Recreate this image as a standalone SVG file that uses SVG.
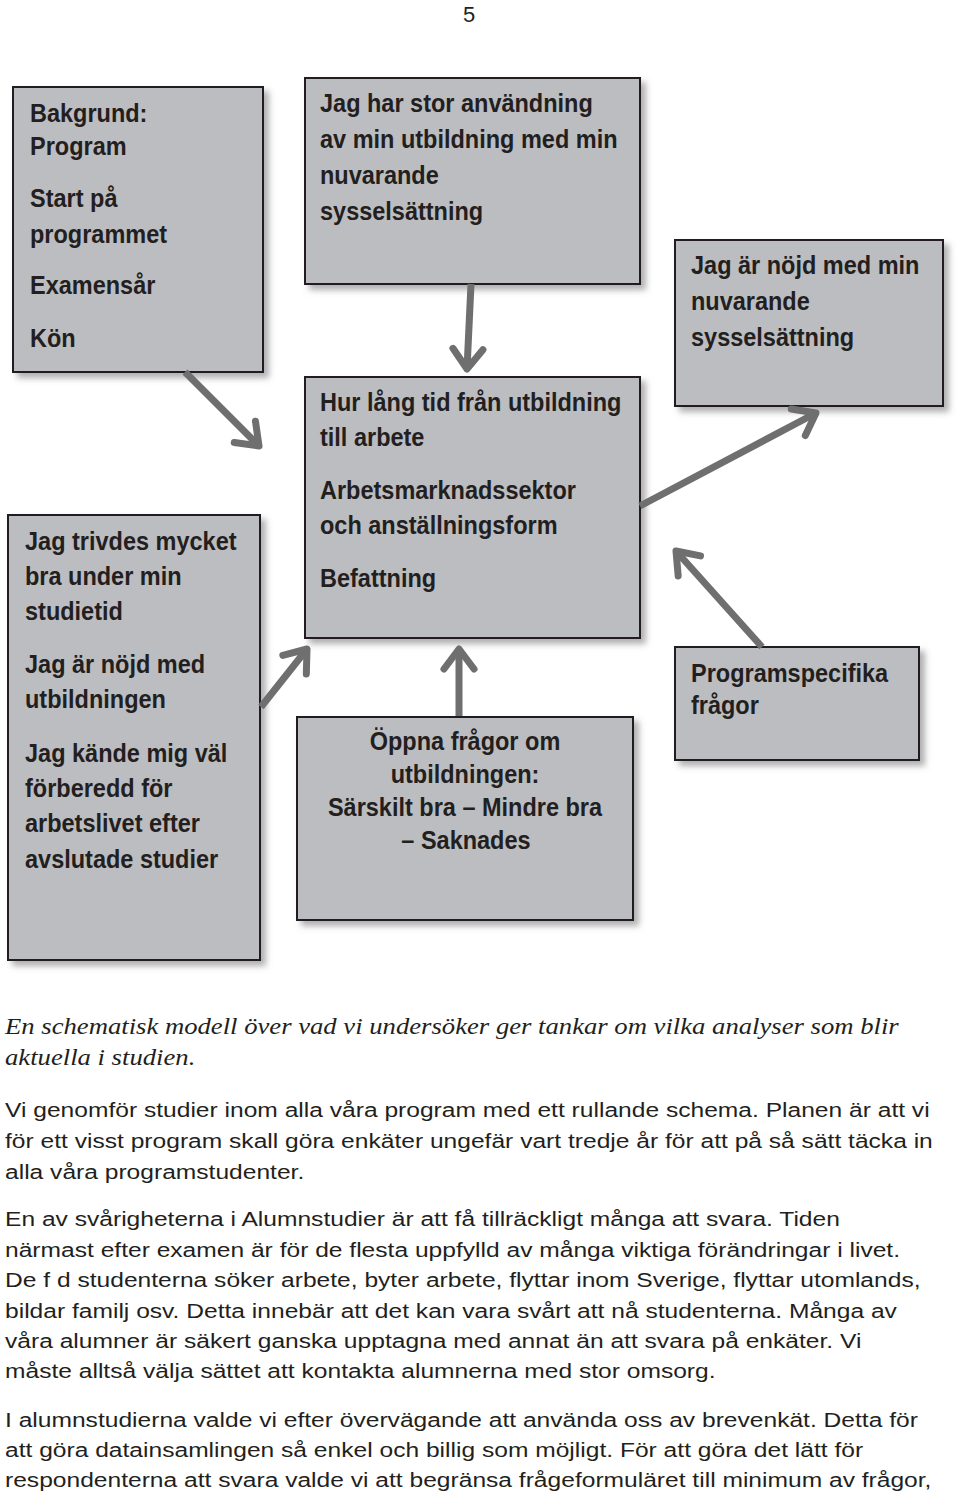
<svg xmlns="http://www.w3.org/2000/svg" width="960" height="1494" viewBox="0 0 960 1494">
<defs>
<filter id="sh" x="-10%" y="-10%" width="130%" height="130%">
<feDropShadow dx="5" dy="5" stdDeviation="3" flood-color="#7a7a7a" flood-opacity="0.6"/>
</filter>
<marker id="ah" markerUnits="userSpaceOnUse" viewBox="-28 -22 34 44" markerWidth="34" markerHeight="44" refX="0" refY="0" orient="auto">
<path d="M-20,-15 L0,0 L-20,15" fill="none" stroke="#6f6f6f" stroke-width="7" stroke-linecap="round" stroke-linejoin="round"/>
</marker>
<style>
.box{fill:#bcbdc0;stroke:#231f20;stroke-width:2;filter:url(#sh)}
.t{font-family:"Liberation Sans",Arial,sans-serif;font-weight:bold;font-size:25px;fill:#231f20}
.c{text-anchor:middle}
.arr{fill:none;stroke:#6f6f6f;stroke-width:7;marker-end:url(#ah)}
.cap{font-family:"Liberation Serif","Times New Roman",serif;font-style:italic;font-size:23px;fill:#231f20}
.body{font-family:"Liberation Sans",Arial,sans-serif;font-size:21px;fill:#231f20}
</style>
</defs>
<rect width="960" height="1494" fill="#ffffff"/>
<text x="469" y="22" font-family="Liberation Sans,Arial,sans-serif" font-size="22" fill="#231f20" text-anchor="middle">5</text>

<g id="n-bakgrund">
<rect class="box" x="13" y="87" width="250" height="285"/>
<g transform="translate(30,0) scale(0.94,1)">
<text class="t" x="0" y="122">Bakgrund:</text>
<text class="t" x="0" y="155">Program</text>
<text class="t" x="0" y="207">Start på</text>
<text class="t" x="0" y="243">programmet</text>
<text class="t" x="0" y="294">Examensår</text>
<text class="t" x="0" y="347">Kön</text>
</g>
</g>

<g id="n-anvandning">
<rect class="box" x="305" y="78" width="335" height="206"/>
<g transform="translate(320,0) scale(0.94,1)">
<text class="t" x="0" y="112">Jag har stor användning</text>
<text class="t" x="0" y="148">av min utbildning med min</text>
<text class="t" x="0" y="184">nuvarande</text>
<text class="t" x="0" y="220">sysselsättning</text>
</g>
</g>

<g id="n-tid">
<rect class="box" x="305" y="377" width="335" height="261"/>
<g transform="translate(320,0) scale(0.94,1)">
<text class="t" x="0" y="411">Hur lång tid från utbildning</text>
<text class="t" x="0" y="446">till arbete</text>
<text class="t" x="0" y="499">Arbetsmarknadssektor</text>
<text class="t" x="0" y="534">och anställningsform</text>
<text class="t" x="0" y="587">Befattning</text>
</g>
</g>

<g id="n-nojd">
<rect class="box" x="675" y="240" width="268" height="166"/>
<g transform="translate(691,0) scale(0.94,1)">
<text class="t" x="0" y="274">Jag är nöjd med min</text>
<text class="t" x="0" y="310">nuvarande</text>
<text class="t" x="0" y="346">sysselsättning</text>
</g>
</g>

<g id="n-programspecifika">
<rect class="box" x="675" y="647" width="244" height="113"/>
<g transform="translate(691,0) scale(0.94,1)">
<text class="t" x="0" y="682">Programspecifika</text>
<text class="t" x="0" y="714">frågor</text>
</g>
</g>

<g id="n-trivdes">
<rect class="box" x="8" y="515" width="252" height="445"/>
<g transform="translate(25,0) scale(0.94,1)">
<text class="t" x="0" y="550">Jag trivdes mycket</text>
<text class="t" x="0" y="585">bra under min</text>
<text class="t" x="0" y="620">studietid</text>
<text class="t" x="0" y="673">Jag är nöjd med</text>
<text class="t" x="0" y="708">utbildningen</text>
<text class="t" x="0" y="762">Jag kände mig väl</text>
<text class="t" x="0" y="797">förberedd för</text>
<text class="t" x="0" y="832">arbetslivet efter</text>
<text class="t" x="0" y="868">avslutade studier</text>
</g>
</g>

<g id="n-oppna">
<rect class="box" x="297" y="717" width="336" height="203"/>
<g transform="translate(465,0) scale(0.94,1)">
<text class="t c" x="0" y="750">Öppna frågor om</text>
<text class="t c" x="0" y="783">utbildningen:</text>
<text class="t c" x="0" y="816">Särskilt bra – Mindre bra</text>
<text class="t c" x="1" y="849">– Saknades</text>
</g>
</g>

<g id="connectors">
<path class="arr" d="M185,372 L259,446"/>
<path class="arr" d="M471,284 L467,369"/>
<path class="arr" d="M261,707 L307,649"/>
<path class="arr" d="M459,716 L459,649"/>
<path class="arr" d="M640,506 L816,413"/>
<path class="arr" d="M762,647 L676,551"/>
</g>

<g id="caption" transform="translate(5,0) scale(1.16,1)">
<text class="cap" x="0" y="1034">En schematisk modell över vad vi undersöker ger tankar om vilka analyser som blir</text>
<text class="cap" x="0" y="1065">aktuella i studien.</text>
</g>

<g id="body" transform="translate(5,0) scale(1.171,1)">
<text class="body" x="0" y="1117">Vi genomför studier inom alla våra program med ett rullande schema. Planen är att vi</text>
<text class="body" x="0" y="1148">för ett visst program skall göra enkäter ungefär vart tredje år för att på så sätt täcka in</text>
<text class="body" x="0" y="1179">alla våra programstudenter.</text>
<text class="body" x="0" y="1226">En av svårigheterna i Alumnstudier är att få tillräckligt många att svara. Tiden</text>
<text class="body" x="0" y="1257">närmast efter examen är för de flesta uppfylld av många viktiga förändringar i livet.</text>
<text class="body" x="0" y="1287">De f d studenterna söker arbete, byter arbete, flyttar inom Sverige, flyttar utomlands,</text>
<text class="body" x="0" y="1318">bildar familj osv. Detta innebär att det kan vara svårt att nå studenterna. Många av</text>
<text class="body" x="0" y="1348">våra alumner är säkert ganska upptagna med annat än att svara på enkäter. Vi</text>
<text class="body" x="0" y="1378">måste alltså välja sättet att kontakta alumnerna med stor omsorg.</text>
<text class="body" x="0" y="1427">I alumnstudierna valde vi efter övervägande att använda oss av brevenkät. Detta för</text>
<text class="body" x="0" y="1457">att göra datainsamlingen så enkel och billig som möjligt. För att göra det lätt för</text>
<text class="body" x="0" y="1487">respondenterna att svara valde vi att begränsa frågeformuläret till minimum av frågor,</text>
</g>
</svg>
